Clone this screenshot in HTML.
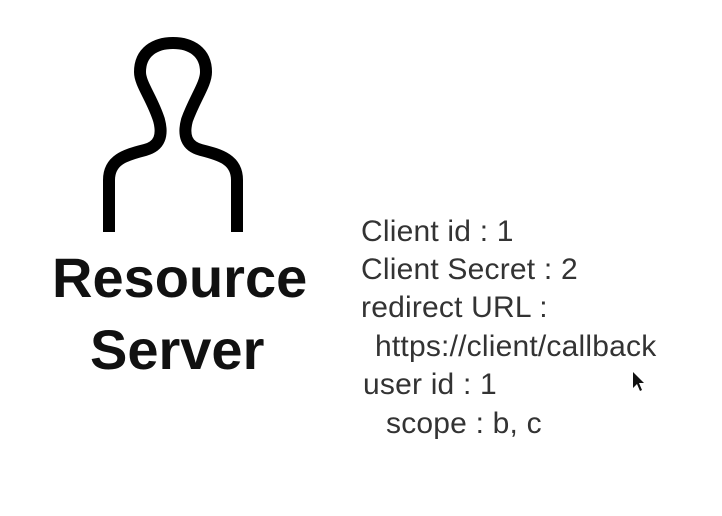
<!DOCTYPE html>
<html><head><style>
body{margin:0;width:722px;height:516px;background:#fff;overflow:hidden;position:relative;font-family:"Liberation Sans",sans-serif}
.t{position:absolute;color:#333;font-size:30px;letter-spacing:0.2px;white-space:nowrap;line-height:1}
.b{position:absolute;font-weight:bold;font-size:56px;color:#111;white-space:nowrap;line-height:1}
</style></head><body>
<svg width="722" height="516" style="position:absolute;left:0;top:0">
<path d="M109,232 L109,180 C109,160 125,155 145,150 C160,146 163,135 159,120 C152,98 140,84 140,72 C140,52 155,43 173,43 C191,43 206,52 206,72 C206,84 195,98 187,120 C183,135 186,146 201,150 C221,155 237,160 237,180 L237,232" fill="none" stroke="#000" stroke-width="12"/>
<path d="M633,372 L633,388 L637,384 L640,391 L642,390 L639,383 L644,383 Z" fill="#111"/>
</svg>
<div class="b" style="left:52px;top:250px">Resource</div>
<div class="b" style="left:90px;top:322px">Server</div>
<div class="t" style="left:361px;top:217px">Client id : 1</div>
<div class="t" style="left:361px;top:255px">Client Secret : 2</div>
<div class="t" style="left:361px;top:293px">redirect URL :</div>
<div class="t" style="left:375px;top:332px">https://client/callback</div>
<div class="t" style="left:363px;top:370px">user id : 1</div>
<div class="t" style="left:386px;top:409px">scope : b, c</div>
</body></html>
